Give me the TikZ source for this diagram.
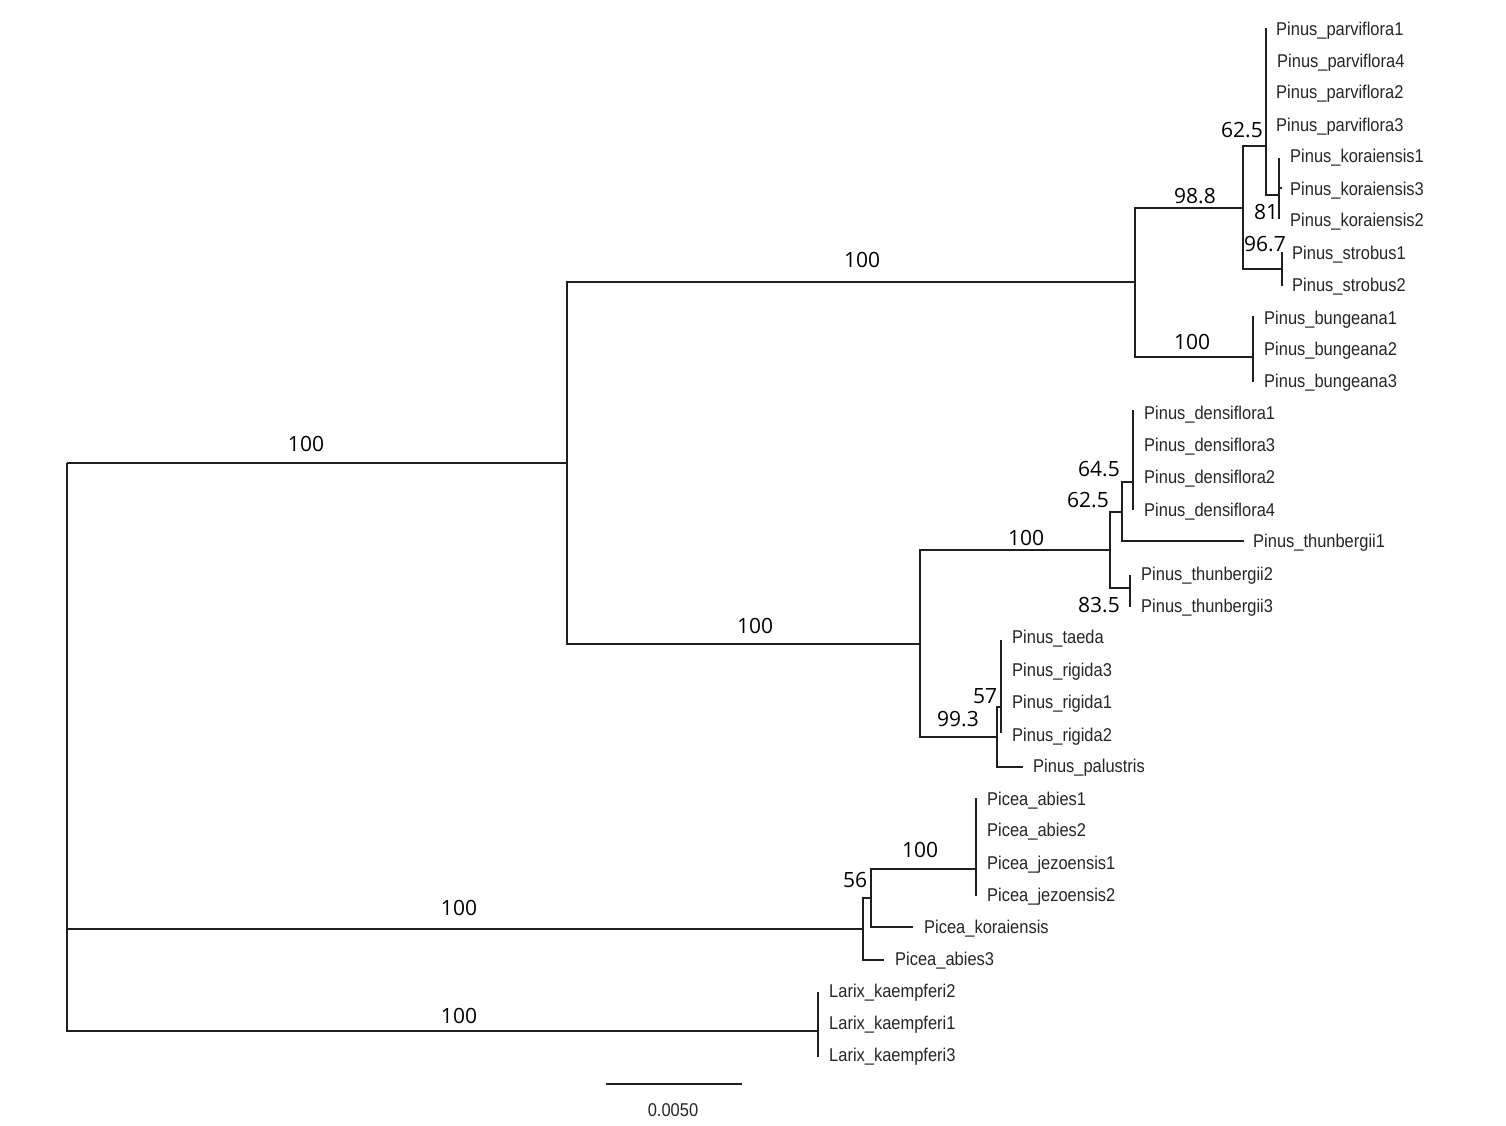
\documentclass[tikz,border=0pt]{standalone}
\usepackage{fontspec}
\newfontfamily\leaffont[FakeStretch=0.89]{Liberation Sans}
\newfontfamily\numfont{Open Sans}
\begin{document}
\begin{tikzpicture}[x=1pt,y=-1pt,
  br/.style={line width=1.6pt, draw=black!88},
  leaf/.style={anchor=base west, inner sep=0pt, text=black!85, font=\leaffont\fontsize{18.5}{20}\selectfont},
  bs/.style={anchor=center, inner sep=0pt, text=black, font=\numfont\fontsize{21}{23}\selectfont}]
\useasboundingbox (0,0) rectangle (1506,1126);
\fill[white] (0,0) rectangle (1506,1126);
% internal nodes
\coordinate (R) at (67,463);
\coordinate (A) at (567,463);
\coordinate (B) at (1135,282);
\coordinate (C) at (920,644);
\coordinate (D) at (1243,208);
\coordinate (E) at (1253,357);
\coordinate (F) at (1266,146);
\coordinate (K) at (1279,195);
\coordinate (G) at (1282,269);
\coordinate (H) at (1110,550);
\coordinate (J) at (1122,512);
\coordinate (Dn) at (1133,482);
\coordinate (L) at (1130,588);
\coordinate (I) at (997,737);
\coordinate (M) at (1001,707);
\coordinate (N) at (863,929);
\coordinate (O) at (871,898);
\coordinate (P) at (976,869);
\coordinate (Lx) at (818,1031);
% leaf tips
\coordinate (t1) at (1266,28);
\coordinate (t2) at (1266,60);
\coordinate (t3) at (1266,92);
\coordinate (t4) at (1266,125);
\coordinate (t5) at (1279,158);
\coordinate (t6) at (1282,188);
\coordinate (t7) at (1279,219);
\coordinate (t8) at (1282,252);
\coordinate (t9) at (1282,286);
\coordinate (t10) at (1253,316);
\coordinate (t11) at (1253,349);
\coordinate (t12) at (1253,382);
\coordinate (t13) at (1133,410);
\coordinate (t14) at (1133,445);
\coordinate (t15) at (1133,477);
\coordinate (t16) at (1133,510);
\coordinate (t17) at (1244,541);
\coordinate (t18) at (1130,575);
\coordinate (t19) at (1130,607);
\coordinate (t20) at (1001,640);
\coordinate (t21) at (1001,670);
\coordinate (t22) at (1001,702);
\coordinate (t23) at (1001,733);
\coordinate (t24) at (1023,767);
\coordinate (t25) at (976,798);
\coordinate (t26) at (976,830);
\coordinate (t27) at (976,863);
\coordinate (t28) at (976,896);
\coordinate (t29) at (913,927);
\coordinate (t30) at (884,960);
\coordinate (t31) at (818,992);
\coordinate (t32) at (818,1023);
\coordinate (t33) at (818,1057);
% branches
\draw[br] (R) |- (A);
\draw[br] (R) |- (N);
\draw[br] (R) |- (Lx);
\draw[br] (A) |- (B);
\draw[br] (A) |- (C);
\draw[br] (B) |- (D);
\draw[br] (B) |- (E);
\draw[br] (D) |- (F);
\draw[br] (D) |- (G);
\draw[br] (F) |- (t1);
\draw[br] (F) |- (K);
\draw[br] (K) |- (t5);
\draw[br] (K) |- (t6);
\draw[br] (K) |- (t7);
\draw[br] (G) |- (t8);
\draw[br] (G) |- (t9);
\draw[br] (E) |- (t10);
\draw[br] (E) |- (t12);
\draw[br] (C) |- (H);
\draw[br] (C) |- (I);
\draw[br] (H) |- (J);
\draw[br] (H) |- (L);
\draw[br] (J) |- (Dn);
\draw[br] (J) |- (t17);
\draw[br] (Dn) |- (t13);
\draw[br] (Dn) |- (t16);
\draw[br] (L) |- (t18);
\draw[br] (L) |- (t19);
\draw[br] (I) |- (M);
\draw[br] (I) |- (t24);
\draw[br] (M) |- (t20);
\draw[br] (M) |- (t23);
\draw[br] (N) |- (O);
\draw[br] (N) |- (t30);
\draw[br] (O) |- (P);
\draw[br] (O) |- (t29);
\draw[br] (P) |- (t25);
\draw[br] (P) |- (t28);
\draw[br] (Lx) |- (t31);
\draw[br] (Lx) |- (t33);
% leaf labels
\node[leaf] (l1) at (1276,35.5) {Pinus\_parviflora1};
\node[leaf] (l2) at (1277,67.5) {Pinus\_parviflora4};
\node[leaf] (l3) at (1276,98.5) {Pinus\_parviflora2};
\node[leaf] (l4) at (1276,131.5) {Pinus\_parviflora3};
\node[leaf] (l5) at (1290,162.5) {Pinus\_koraiensis1};
\node[leaf] (l6) at (1290,195.5) {Pinus\_koraiensis3};
\node[leaf] (l7) at (1290,226.5) {Pinus\_koraiensis2};
\node[leaf] (l8) at (1292,259.5) {Pinus\_strobus1};
\node[leaf] (l9) at (1292,291.5) {Pinus\_strobus2};
\node[leaf] (l10) at (1264,324.5) {Pinus\_bungeana1};
\node[leaf] (l11) at (1264,355.5) {Pinus\_bungeana2};
\node[leaf] (l12) at (1264,387.5) {Pinus\_bungeana3};
\node[leaf] (l13) at (1144,419.5) {Pinus\_densiflora1};
\node[leaf] (l14) at (1144,451.5) {Pinus\_densiflora3};
\node[leaf] (l15) at (1144,483.5) {Pinus\_densiflora2};
\node[leaf] (l16) at (1144,516.5) {Pinus\_densiflora4};
\node[leaf] (l17) at (1253,547.5) {Pinus\_thunbergii1};
\node[leaf] (l18) at (1141,580.5) {Pinus\_thunbergii2};
\node[leaf] (l19) at (1141,612.5) {Pinus\_thunbergii3};
\node[leaf] (l20) at (1012,643.5) {Pinus\_taeda};
\node[leaf] (l21) at (1012,676.5) {Pinus\_rigida3};
\node[leaf] (l22) at (1012,708.5) {Pinus\_rigida1};
\node[leaf] (l23) at (1012,741.5) {Pinus\_rigida2};
\node[leaf] (l24) at (1033,772.5) {Pinus\_palustris};
\node[leaf] (l25) at (987,805.5) {Picea\_abies1};
\node[leaf] (l26) at (987,836.5) {Picea\_abies2};
\node[leaf] (l27) at (987,869.5) {Picea\_jezoensis1};
\node[leaf] (l28) at (987,901.5) {Picea\_jezoensis2};
\node[leaf] (l29) at (924,933.5) {Picea\_koraiensis};
\node[leaf] (l30) at (895,965.5) {Picea\_abies3};
\node[leaf] (l31) at (829,997.5) {Larix\_kaempferi2};
\node[leaf] (l32) at (829,1029.5) {Larix\_kaempferi1};
\node[leaf] (l33) at (829,1061.5) {Larix\_kaempferi3};
% bootstrap values
\node[bs] (b1) at (306,444) {100};
\node[bs] (b2) at (862,260) {100};
\node[bs] (b3) at (1195,196) {98.8};
\node[bs] (b4) at (1242,130) {62.5};
\node[bs] (b5) at (1266,212) {81};
\node[bs] (b6) at (1265,244) {96.7};
\node[bs] (b7) at (1192,342) {100};
\node[bs] (b8) at (755,626) {100};
\node[bs] (b9) at (1026,538) {100};
\node[bs] (b10) at (1099,469) {64.5};
\node[bs] (b11) at (1088,500) {62.5};
\node[bs] (b12) at (1099,605) {83.5};
\node[bs] (b13) at (985,696) {57};
\node[bs] (b14) at (958,719) {99.3};
\node[bs] (b15) at (920,850) {100};
\node[bs] (b16) at (855,880) {56};
\node[bs] (b17) at (459,908) {100};
\node[bs] (b18) at (459,1016) {100};
% scale bar
\coordinate (s1) at (606,1084);
\coordinate (s2) at (742,1084);
\draw[br] (s1) -- (s2);
\node[leaf, anchor=base] (sl) at (673,1116) {0.0050};
\end{tikzpicture}
\end{document}
